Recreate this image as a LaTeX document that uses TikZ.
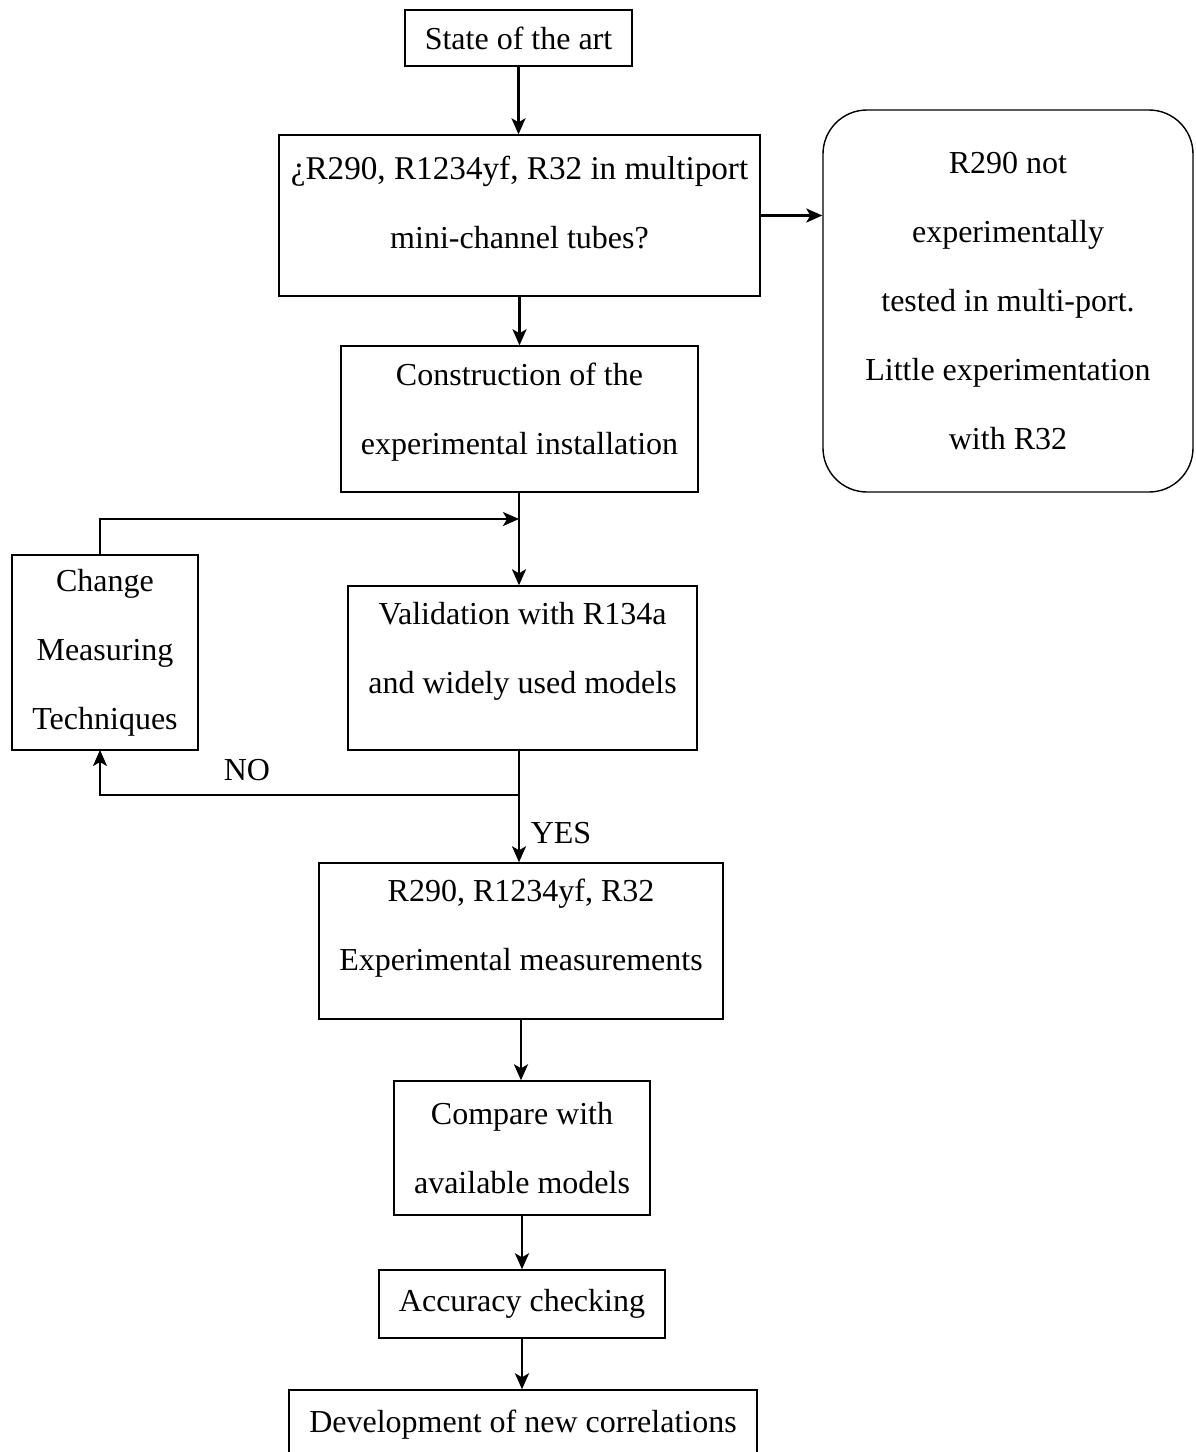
\documentclass[tikz,border=0pt]{standalone}
\usepackage{fontspec}
\setmainfont{Liberation Serif}
\usetikzlibrary{arrows.meta}

\tikzset{
  box/.style={draw, line width=0.7pt, align=center, inner sep=2pt,
    font=\fontsize{16}{34.5}\selectfont},
  arr/.style={line width=1.2pt, -{Stealth[length=8pt,width=7pt,inset=2pt]}},
  lbl/.style={font=\fontsize{16}{19}\selectfont}
}

\begin{document}
\begin{tikzpicture}[x=0.5pt,y=-0.5pt]
    \useasboundingbox (0,0) rectangle (1195,1452);
    \clip (0,0) rectangle (1195,1452);

    % Boxes
    \node[box, minimum width=113.5pt, minimum height=28pt] (art) at (518.5,38) {State of the art};
    \node[box, minimum width=240.5pt, minimum height=80.5pt, text depth=13.5pt] (quest) at (519.5,215.5) {\fontsize{16.6}{34.5}\selectfont ¿R290, R1234yf, R32 in multiport\\mini-channel tubes?};
    \node[box, rounded corners=22pt, minimum width=185pt, minimum height=191pt] (gap) at (1008,301) {R290 not\\experimentally\\tested in multi-port.\\Little experimentation\\with R32};
    \node[box, minimum width=178.5pt, minimum height=73pt, text depth=10.5pt] (constr) at (519.5,419) {Construction of the\\experimental installation};
    \node[box, minimum width=93pt, minimum height=97.5pt] (change) at (105,652.5) {Change\\Measuring\\Techniques};
    \node[box, minimum width=174.5pt, minimum height=82pt, text depth=20.5pt] (valid) at (522.5,668) {Validation with R134a\\and widely used models};
    \node[box, minimum width=202pt, minimum height=78pt, text depth=16pt] (meas) at (521,941) {R290, R1234yf, R32\\Experimental measurements};
    \node[box, minimum width=128pt, minimum height=67pt] (compare) at (522,1148) {Compare with\\available models};
    \node[box, minimum width=143pt, minimum height=34pt] (accur) at (522,1304) {Accuracy checking};
    \node[box, minimum width=234pt, minimum height=35pt] (develop) at (523,1425) {Development of new correlations};

    % Junctions
    \coordinate (merge) at (519,519);
    \coordinate (split) at (519,795);
    \coordinate (back) at (100,750);

    % Connectors
    \draw[arr] (art.south) -- (art.south |- quest.north);
    \draw[arr] (quest.east) -- (quest.east -| gap.west);
    \draw[arr] (quest.south) -- (quest.south |- constr.north);
    \draw[arr] (merge |- constr.south) -- (merge |- valid.north);
    \draw[arr] (back |- change.north) |- (merge);
    \draw[line width=1.2pt] (split |- valid.south) -- (split);
    \draw[arr] (split) -| (back);
    \draw[arr] (split) -- (split |- meas.north);
    \draw[arr] (meas.south) -- (meas.south |- compare.north);
    \draw[arr] (compare.south) -- (compare.south |- accur.north);
    \draw[arr] (accur.south) -- (accur.south |- develop.north);

    % Labels
    \node[lbl] (no) at (247,770) {NO};
    \node[lbl] (yes) at (561,833) {YES};

\end{tikzpicture}
\end{document}
